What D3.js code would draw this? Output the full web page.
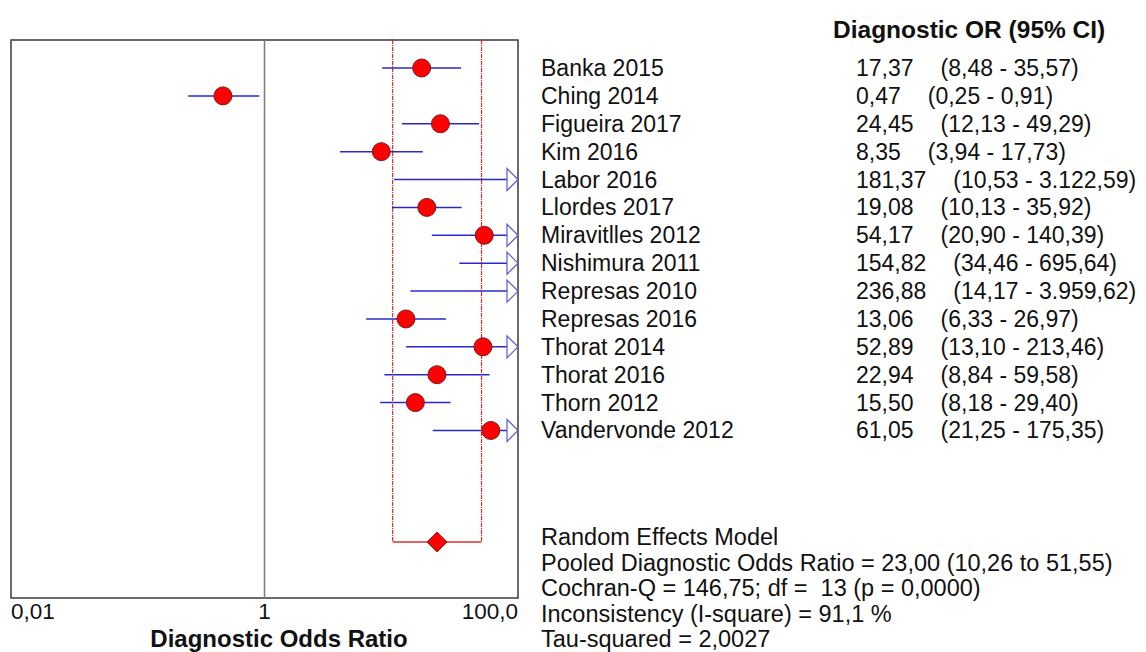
<!DOCTYPE html>
<html>
<head>
<meta charset="utf-8">
<script src="https://cdn.jsdelivr.net/npm/d3@7"></script>
<style>
  body { margin: 0; background: #fff; }
  text { font-family: 'Liberation Sans', Arial, sans-serif; fill: #111; }
</style>
</head>
<body>
<div class="chart"></div>
<script>
// DATA ------------------------------------
const studies = ['Banka 2015', 'Ching 2014', 'Figueira 2017', 'Kim 2016', 'Labor 2016', 'Llordes 2017',
    'Miravitlles 2012', 'Nishimura 2011', 'Represas 2010', 'Represas 2016', 'Thorat 2014',
    'Thorat 2016', 'Thorn 2012', 'Vandervonde 2012']
const orVals = [17.37, 0.47, 24.45, 8.35, 181.37, 19.08, 54.17, 154.82, 236.88, 13.06, 52.89, 22.94, 15.50, 61.05]
const ciLow = [8.48, 0.25, 12.13, 3.94, 10.53, 10.13, 20.90, 34.46, 14.17, 6.33, 13.10, 8.84, 8.18, 21.25]
const ciHigh = [35.57, 0.91, 49.29, 17.73, 3122.59, 35.92, 140.39, 695.64, 3959.62, 26.97, 213.46, 59.58, 29.40, 175.35]

const pooled = 23.00
const pooledLow = 10.26
const pooledHigh = 51.55

const tickVals = [0.01, 1, 100]
const tickLabels = ['0,01', '1', '100,0']

const statLines = [
    'Random Effects Model',
    'Pooled Diagnostic Odds Ratio = 23,00 (10,26 to 51,55)',
    'Cochran-Q = 146,75; df =  13 (p = 0,0000)',
    'Inconsistency (I-square) = 91,1 %',
    'Tau-squared = 2,0027'
]

// CHART INIT ------------------------------
const W = 1146, H = 652
const box = { left: 11, right: 518, top: 40, bottom: 598 }

const svg = d3.select('.chart')
    .append('svg')
    .attr('width', W)
    .attr('height', H)

const xScale = d3.scaleLog()
    .domain([0.01, 100])
    .range([box.left, box.right])

// rows 0..13 are studies, row 17 is the pooled estimate
const yScale = d3.scaleLinear()
    .domain([0, 17])
    .range([68, 542])
const pooledRow = 17

const loc = d3.formatLocale({ decimal: ',', thousands: '.', grouping: [3], currency: ['', ''] })
const fmt = loc.format(',.2f')

const data = studies.map((s, i) => ({ study: s, or: orVals[i], lo: ciLow[i], hi: ciHigh[i], i: i }))

// frame
svg.append('rect')
    .attr('x', box.left)
    .attr('y', box.top)
    .attr('width', box.right - box.left)
    .attr('height', box.bottom - box.top)
    .attr('fill', 'none')
    .attr('stroke', '#3a3a3a')
    .attr('stroke-width', 1.5)

// line of no effect
svg.append('line')
    .attr('x1', xScale(1)).attr('x2', xScale(1))
    .attr('y1', box.top).attr('y2', box.bottom)
    .attr('stroke', '#7a7a7a')
    .attr('stroke-width', 1.5)

// pooled CI guide lines
svg.selectAll('.pool-guide')
    .data([pooledLow, pooledHigh])
    .enter()
    .append('line')
    .attr('class', 'pool-guide')
    .attr('x1', d => xScale(d)).attr('x2', d => xScale(d))
    .attr('y1', box.top).attr('y2', yScale(pooledRow))
    .attr('stroke', '#e02828')
    .attr('stroke-width', 1.2)
    .attr('stroke-dasharray', '4,1,1,1')

svg.append('line')
    .attr('x1', xScale(pooledLow)).attr('x2', xScale(pooledHigh))
    .attr('y1', yScale(pooledRow)).attr('y2', yScale(pooledRow))
    .attr('stroke', '#e03030')
    .attr('stroke-width', 1.3)

// CI lines
const arrowW = 11
const arrowH = 11
const maxX = box.right - arrowW

svg.selectAll('.ci')
    .data(data)
    .enter()
    .append('line')
    .attr('class', 'ci')
    .attr('x1', d => Math.max(xScale(d.lo), box.left))
    .attr('x2', d => d.hi > 100 ? maxX : xScale(d.hi))
    .attr('y1', d => yScale(d.i)).attr('y2', d => yScale(d.i))
    .attr('stroke', '#2a2ac8')
    .attr('stroke-width', 1.5)

// arrows for truncated intervals
svg.selectAll('.arrow')
    .data(data.filter(d => d.hi > 100))
    .enter()
    .append('path')
    .attr('class', 'arrow')
    .attr('d', d => {
        const y = yScale(d.i)
        return `M${maxX},${y - arrowH}L${box.right},${y}L${maxX},${y + arrowH}Z`
    })
    .attr('fill', '#fff')
    .attr('stroke', '#5a5ad0')
    .attr('stroke-width', 1.2)

// point estimates
svg.selectAll('.pt')
    .data(data.filter(d => d.or <= 100))
    .enter()
    .append('circle')
    .attr('class', 'pt')
    .attr('cx', d => xScale(d.or))
    .attr('cy', d => yScale(d.i))
    .attr('r', 9)
    .attr('fill', '#ff0000')
    .attr('stroke', '#7a1a1a')
    .attr('stroke-width', 1)

// pooled diamond
const px = xScale(pooled), py = yScale(pooledRow)
svg.append('path')
    .attr('d', `M${px - 10},${py}L${px},${py - 10}L${px + 10},${py}L${px},${py + 10}Z`)
    .attr('fill', '#ff0000')
    .attr('stroke', '#7a1a1a')
    .attr('stroke-width', 1)

// axis labels
svg.selectAll('.tick-label')
    .data(tickVals)
    .enter()
    .append('text')
    .attr('class', 'tick-label')
    .attr('x', d => xScale(d))
    .attr('y', 619)
    .attr('text-anchor', (d, i) => i == 0 ? 'start' : (i == tickVals.length - 1 ? 'end' : 'middle'))
    .attr('font-size', 22.5)
    .text((d, i) => tickLabels[i])

svg.append('text')
    .attr('x', 279)
    .attr('y', 647)
    .attr('text-anchor', 'middle')
    .attr('font-size', 24)
    .attr('font-weight', 'bold')
    .text('Diagnostic Odds Ratio')

// RIGHT TABLE -----------------------------
svg.append('text')
    .attr('x', 833)
    .attr('y', 38)
    .attr('font-size', 24.5)
    .attr('font-weight', 'bold')
    .text('Diagnostic OR (95% CI)')

svg.selectAll('.name')
    .data(data)
    .enter()
    .append('text')
    .attr('class', 'name')
    .attr('x', 541)
    .attr('y', d => yScale(d.i) + 8)
    .attr('font-size', 23)
    .text(d => d.study)

const vals = svg.selectAll('.val')
    .data(data)
    .enter()
    .append('text')
    .attr('class', 'val')
    .attr('x', 856)
    .attr('y', d => yScale(d.i) + 8)
    .attr('font-size', 23)

vals.append('tspan').text(d => fmt(d.or))
vals.append('tspan').attr('dx', 27).text(d => '(' + fmt(d.lo) + ' - ' + fmt(d.hi) + ')')

svg.selectAll('.stat')
    .data(statLines)
    .enter()
    .append('text')
    .attr('class', 'stat')
    .attr('x', 541)
    .attr('y', (d, i) => 545 + i * 25.5)
    .attr('font-size', 23.5)
    .style('white-space', 'pre')
    .text(d => d)
</script>
</body>
</html>
